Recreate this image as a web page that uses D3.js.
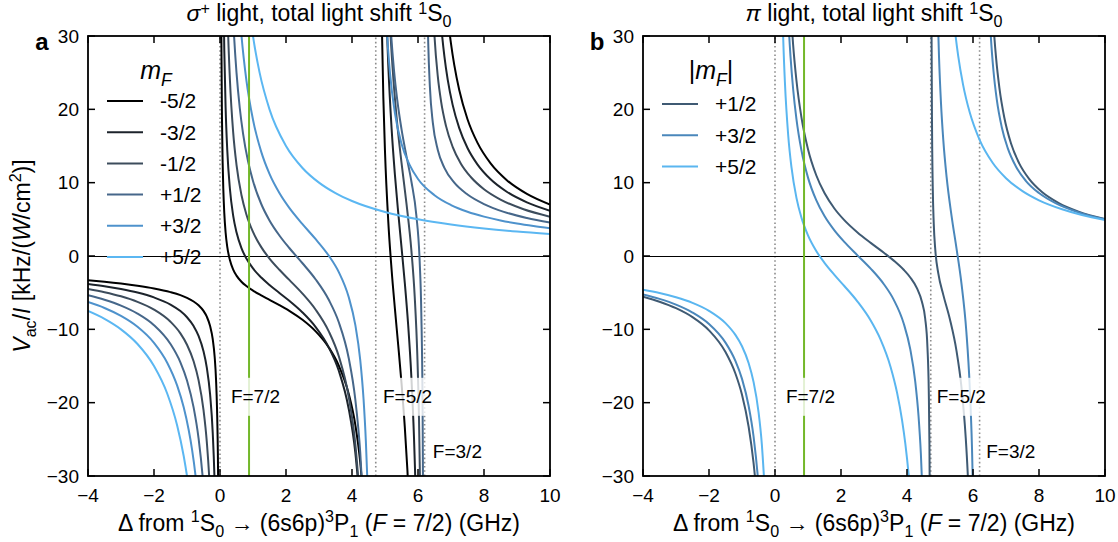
<!DOCTYPE html>
<html><head><meta charset="utf-8">
<script src="https://cdn.jsdelivr.net/npm/d3@7"></script>
<style>
body{margin:0;background:#fff;}
svg{font-family:"Liberation Sans", Arial, Helvetica, sans-serif;}
</style></head><body>
<svg id="chart" width="1118" height="542"></svg>
<script>
// ---------------- data ----------------
const xTicks = [-4, -2, 0, 2, 4, 6, 8, 10];
const yTicks = [-30, -20, -10, 0, 10, 20, 30];
const resonances = [0, 4.72, 6.2];
const resonanceLabels = ["F=7/2", "F=5/2", "F=3/2"];
const sigmaLabelPos = [[0.33, -19.2], [4.94, -19.2], [6.45, -26.7]];
const piLabelPos = [[0.33, -19.2], [4.9, -19.2], [6.4, -26.7]];
const greenLineX = 0.88;

const sigmaLabels = ["-5/2", "-3/2", "-1/2", "+1/2", "+3/2", "+5/2"];
const piLabels = ["+1/2", "+3/2", "+5/2"];

// sigma+ light, mF = -5/2
const sigmaM52 = [
 [[-4,-3.30],[-3.5,-3.51],[-3,-3.76],[-2.5,-4.06],[-2,-4.43],[-1.5,-4.93],[-1.2,-5.34],[-1,-5.71],[-0.8,-6.20],[-0.65,-6.72],[-0.5,-7.49],[-0.4,-8.28],[-0.3,-9.55],[-0.22,-11.35],[-0.16,-13.84],[-0.12,-16.86],[-0.09,-20.85],[-0.06,-28.82],[-0.04,-40.76]],
 [[0.03,42.6],[0.04,30.67],[0.06,18.73],[0.08,12.77],[0.1,9.17],[0.13,5.84],[0.17,3.21],[0.22,1.25],[0.3,-0.56],[0.4,-1.86],[0.5,-2.68],[0.65,-3.51],[0.8,-4.10],[1,-4.72],[1.25,-5.37],[1.5,-5.97],[1.8,-6.69],[2.1,-7.47],[2.5,-8.70],[2.9,-10.28],[3.3,-12.50],[3.6,-14.95],[3.9,-18.78],[4.1,-23.00],[4.25,-28.15],[4.35,-33.64]],
 [[4.86,46.6],[4.9,32.5],[4.95,21.55],[5.0,14.22],[5.1,4.65],[5.2,-1.87],[5.3,-7.18],[5.4,-12.14],[5.5,-17.32],[5.6,-23.33],[5.68,-29.28],[5.75,-35.87]],
 [[6.85,35.0],[6.93,31.49],[7.0,28.96],[7.1,26.02],[7.25,22.64],[7.5,18.65],[7.8,15.46],[8.2,12.63],[8.7,10.31],[9.3,8.47],[10,7.02]]
];
// mF = -3/2
const sigmaM32 = [
 [[-4,-3.82],[-3.5,-4.13],[-3,-4.51],[-2.5,-4.99],[-2,-5.65],[-1.5,-6.62],[-1.2,-7.51],[-1,-8.35],[-0.8,-9.56],[-0.65,-10.90],[-0.5,-13.00],[-0.4,-15.22],[-0.3,-18.88],[-0.22,-24.14],[-0.16,-31.5],[-0.12,-40.5]],
 [[0.1,37.97],[0.13,28.04],[0.17,20.23],[0.22,14.45],[0.3,9.17],[0.4,5.48],[0.5,3.23],[0.65,1.07],[0.8,-0.35],[1,-1.70],[1.25,-2.94],[1.5,-3.95],[1.8,-5.04],[2.1,-6.11],[2.5,-7.70],[2.9,-9.69],[3.3,-12.49],[3.6,-15.65],[3.9,-20.83],[4.1,-26.77],[4.25,-34.30]],
 [[5.0,39.78],[5.05,31.92],[5.1,25.99],[5.2,17.37],[5.3,11.10],[5.4,5.94],[5.5,1.20],[5.6,-3.67],[5.7,-9.28],[5.8,-16.57],[5.88,-24.96],[5.91,-29.14],[5.94,-34.2]],
 [[6.65,34.42],[6.72,30.57],[6.8,27.22],[6.9,24.04],[7.05,20.61],[7.25,17.44],[7.5,14.73],[7.8,12.5],[8.2,10.46],[8.7,8.73],[9.3,7.32],[10,6.18]]
];
// mF = -1/2
const sigmaM12 = [
 [[-4,-4.50],[-3.5,-4.94],[-3,-5.50],[-2.5,-6.25],[-2,-7.31],[-1.5,-8.97],[-1.2,-10.55],[-1,-12.10],[-0.8,-14.36],[-0.65,-16.93],[-0.5,-20.99],[-0.4,-25.34],[-0.3,-32.56],[-0.22,-43.0]],
 [[0.2,38.44],[0.25,29.83],[0.3,24.07],[0.4,16.83],[0.5,12.44],[0.65,8.32],[0.8,5.67],[1,3.28],[1.25,1.21],[1.5,-0.35],[1.8,-1.88],[2.1,-3.26],[2.5,-5.13],[2.9,-7.33],[3.3,-10.31],[3.6,-13.68],[3.9,-19.19],[4.1,-25.61],[4.25,-33.83]],
 [[5.1,36.76],[5.17,30.05],[5.25,24.37],[5.35,18.98],[5.5,12.73],[5.65,7.17],[5.8,0.74],[5.9,-5.51],[5.98,-13.61],[6.03,-22.12],[6.07,-33.33]],
 [[6.42,37.67],[6.5,29.97],[6.6,24.49],[6.7,21.06],[6.85,17.71],[7.05,14.89],[7.3,12.59],[7.6,10.77],[8,9.1],[8.5,7.69],[9.2,6.37],[10,5.36]]
];
// mF = +1/2
const sigmaP12 = [
 [[-4,-5.34],[-3.5,-5.96],[-3,-6.76],[-2.5,-7.85],[-2,-9.43],[-1.5,-12.00],[-1.2,-14.50],[-1,-16.97],[-0.8,-20.64],[-0.65,-24.84],[-0.5,-31.52],[-0.4,-38.73]],
 [[0.35,37.38],[0.42,30.52],[0.5,25.00],[0.6,20.15],[0.7,16.66],[0.85,12.91],[1,10.23],[1.25,7.09],[1.5,4.85],[1.8,2.80],[2.1,1.09],[2.5,-0.99],[2.9,-3.20],[3.3,-6.01],[3.6,-9.03],[3.9,-13.91],[4.1,-19.56],[4.25,-26.81],[4.35,-34.82]],
 [[5.12,35.19],[5.19,29.93],[5.27,25.47],[5.37,21.32],[5.5,17.30],[5.65,13.62],[5.8,10.16],[5.95,5.54],[6.05,-0.67],[6.1,-7.73],[6.14,-21.36],[6.16,-38.17]],
 [[6.25,51.2],[6.28,36.06],[6.31,29.07],[6.36,23.1],[6.45,18.14],[6.6,14.46],[6.8,12.02],[7.1,9.99],[7.5,8.38],[8,7.08],[8.6,6.02],[9.3,5.18],[10,4.55]]
];
// mF = +3/2
const sigmaP32 = [
 [[-4,-6.28],[-3.5,-7.09],[-3,-8.17],[-2.5,-9.65],[-2,-11.84],[-1.6,-14.55],[-1.3,-17.65],[-1.1,-20.64],[-0.95,-23.7],[-0.85,-26.3],[-0.74,-30.0],[-0.65,-34.0]],
 [[0.55,36.0],[0.65,30.1],[0.8,23.95],[1,18.58],[1.25,14.2],[1.5,11.2],[1.8,8.59],[2.1,6.56],[2.5,4.35],[2.9,2.29],[3.3,0.02],[3.6,-2.2],[3.9,-5.6],[4.1,-9.4],[4.25,-14.2],[4.35,-19.5],[4.42,-25.25],[4.46,-29.9],[4.5,-36.2]],
 [[5.0,36.3],[5.07,29.8],[5.15,25.0],[5.3,19.5],[5.5,15.3],[5.75,12.4],[6,10.5],[6.5,8.29],[7,6.95],[7.5,6.04],[8,5.37],[8.5,4.85],[9,4.43],[9.5,4.09],[10,3.8]]
];
// mF = +5/2
const sigmaP52 = [
 [[-4,-7.5],[-3.5,-8.57],[-3,-10],[-2.5,-12],[-2,-15],[-1.6,-18.75],[-1.3,-23.08],[-1.1,-27.27],[-1.0,-30],[-0.9,-33.33]],
 [[0.85,35.29],[1,30],[1.2,25],[1.5,20],[2,15],[2.5,12],[3,10],[3.5,8.57],[4,7.5],[5,6],[6,5],[7,4.29],[8,3.75],[9,3.33],[10,3.0]]
];

// pi light, |mF| = 1/2
const piP12 = [
 [[-4,-5.55],[-3.5,-6.23],[-3,-7.12],[-2.5,-8.34],[-2,-10.14],[-1.5,-13.10],[-1.2,-16.02],[-1,-18.92],[-0.8,-23.25],[-0.65,-28.21],[-0.6,-30.43],[-0.5,-36.16]],
 [[0.45,35.71],[0.55,28.76],[0.65,23.93],[0.8,18.94],[1,14.56],[1.25,11.01],[1.5,8.58],[1.8,6.48],[2.1,4.89],[2.5,3.21],[2.9,1.79],[3.3,0.44],[3.6,-0.63],[3.9,-1.88],[4.1,-2.93],[4.3,-4.39],[4.45,-6.20],[4.55,-8.49],[4.62,-12.49],[4.66,-18.46],[4.68,-25.74],[4.69,-32.94]],
 [[4.735,52.7],[4.745,29.76],[4.76,16.76],[4.78,9.46],[4.81,4.48],[4.86,0.70],[4.95,-2.41],[5.1,-5.30],[5.3,-8.62],[5.5,-12.93],[5.65,-17.87],[5.78,-24.80],[5.84,-29.63],[5.88,-33.85]],
 [[6.55,37.37],[6.62,31.6],[6.7,26.98],[6.8,22.93],[6.95,18.85],[7.15,15.37],[7.4,12.63],[7.7,10.51],[8.1,8.68],[8.6,7.21],[9.2,6.05],[10,5.03]]
];
// |mF| = 3/2
const piP32 = [
 [[-4,-5.24],[-3.5,-5.85],[-3,-6.63],[-2.5,-7.71],[-2,-9.27],[-1.5,-11.81],[-1.2,-14.30],[-1,-16.76],[-0.8,-20.42],[-0.65,-24.60],[-0.5,-31.27],[-0.4,-38.47]],
 [[0.35,37.73],[0.4,32.59],[0.47,27.22],[0.55,22.74],[0.65,18.67],[0.8,14.43],[1,10.69],[1.25,7.61],[1.5,5.44],[1.8,3.49],[2.1,1.92],[2.5,0.09],[2.9,-1.72],[3.3,-3.85],[3.6,-5.98],[3.9,-9.20],[4.1,-12.74],[4.25,-17.12],[4.35,-21.85],[4.42,-26.93],[4.48,-33.54]],
 [[4.9,39.54],[4.93,33.27],[4.97,27.17],[5.03,20.85],[5.1,15.80],[5.2,10.79],[5.35,5.48],[5.5,1.04],[5.65,-3.74],[5.8,-10.40],[5.9,-17.73],[5.97,-26.23],[6.02,-36.15]],
 [[6.47,36.24],[6.54,29.95],[6.62,25.26],[6.72,21.36],[6.87,17.6],[7.05,14.74],[7.3,12.21],[7.6,10.26],[8,8.58],[8.5,7.2],[9.2,5.94],[10,5.0]]
];
// |mF| = 5/2
const piP52 = [
 [[-4,-4.60],[-3.5,-5.05],[-3,-5.63],[-2.5,-6.39],[-2,-7.47],[-1.5,-9.15],[-1.2,-10.76],[-1,-12.31],[-0.8,-14.59],[-0.65,-17.17],[-0.5,-21.24],[-0.4,-25.61],[-0.3,-32.83]],
 [[0.2,38.12],[0.25,29.49],[0.3,23.73],[0.4,16.47],[0.5,12.07],[0.65,7.92],[0.8,5.25],[1,2.82],[1.25,0.69],[1.5,-0.93],[1.8,-2.57],[2.1,-4.09],[2.5,-6.21],[2.9,-8.80],[3.2,-11.40],[3.5,-15.09],[3.7,-18.66],[3.85,-22.37],[3.95,-25.62],[4.05,-29.82],[4.15,-35.48]],
 [[5.35,35.57],[5.45,30.89],[5.55,27.32],[5.7,23.34],[5.9,19.59],[6.2,15.84],[6.6,12.68],[7,10.61],[7.5,8.84],[8,7.59],[8.7,6.37],[9.3,5.59],[10,4.91]]
];

const sigmaSeries = [sigmaM52, sigmaM32, sigmaM12, sigmaP12, sigmaP32, sigmaP52];
const piSeries = [piP12, piP32, piP52];

// ---------------- styles ----------------
const sigmaColors = ["#000000", "#1c232b", "#3c4c5c", "#46678a", "#4e92cc", "#5bb7f2"];
const piColors = ["#3f5a73", "#4a87bb", "#5ab6f0"];
const FS = {tick: 19, axis: 23, title: 23, legend: 21, legTitle: 25, flabel: 19, letter: 24};

const svg = d3.select("#chart");

function rich(sel, parts, fs, supShift) {
  const sup = supShift === undefined ? 0.4 : supShift;
  let cur = 0;
  parts.forEach(([t, s]) => {
    const isSub = s.indexOf("sub") >= 0, isSup = s.indexOf("sup") >= 0;
    const target = isSub ? fs * 0.28 : isSup ? -fs * sup : 0;
    const ts = sel.append("tspan").text(t).attr("dy", target - cur);
    cur = target;
    if (isSub || isSup) ts.attr("font-size", fs * 0.7);
    if (s.indexOf("i") === 0) ts.attr("font-style", "italic");
  });
}

function panel(cfg) {
  const x = d3.scaleLinear().domain([-4, 10]).range([cfg.left, cfg.right]);
  const y = d3.scaleLinear().domain([-30, 30]).range([476, 36]);
  const g = svg.append("g");
  const clipId = "clip" + cfg.id;
  svg.append("clipPath").attr("id", clipId).append("rect")
    .attr("x", cfg.left).attr("y", 36).attr("width", cfg.right - cfg.left).attr("height", 440);
  const inner = g.append("g").attr("clip-path", `url(#${clipId})`);

  // resonance dotted lines
  inner.selectAll("line.res").data(resonances).join("line")
    .attr("x1", d => x(d)).attr("x2", d => x(d)).attr("y1", y(-30)).attr("y2", y(30))
    .attr("stroke", "#8c8c8c").attr("stroke-width", 1.6).attr("stroke-dasharray", "1.6,2.6");
  // zero line
  inner.append("line").attr("x1", x(-4)).attr("x2", x(10)).attr("y1", y(0) + 0.5).attr("y2", y(0) + 0.5)
    .attr("stroke", "#000").attr("stroke-width", 1);

  const line = d3.line().x(d => x(d[0])).y(d => y(d[1])).curve(d3.curveMonotoneX);
  cfg.series.forEach((branches, i) => {
    branches.forEach(b => {
      inner.append("path").attr("d", line(b)).attr("fill", "none")
        .attr("stroke", cfg.colors[i]).attr("stroke-width", 2);
    });
  });
  // green line
  inner.append("line").attr("x1", x(greenLineX)).attr("x2", x(greenLineX)).attr("y1", y(-30)).attr("y2", y(30))
    .attr("stroke", "#73b82a").attr("stroke-width", 2);

  // resonance labels with translucent boxes
  resonanceLabels.forEach((lab, i) => {
    const [lx, ly] = cfg.labelPos[i];
    const t = g.append("text").attr("x", x(lx)).attr("y", y(ly)).attr("dy", "0.35em")
      .attr("font-size", FS.flabel).text(lab);
    const bb = t.node().getBBox();
    g.insert("rect", "text").attr("x", bb.x - 2).attr("y", y(ly) - 19).attr("width", bb.width + 4)
      .attr("height", 38).attr("fill", "#fff").attr("opacity", 0.8);
  });

  // frame
  g.append("rect").attr("x", cfg.left).attr("y", 36).attr("width", cfg.right - cfg.left).attr("height", 440)
    .attr("fill", "none").attr("stroke", "#000").attr("stroke-width", 1.8);
  // ticks (inward, all sides)
  const tl = 7;
  xTicks.forEach(v => {
    g.append("line").attr("x1", x(v)).attr("x2", x(v)).attr("y1", 476).attr("y2", 476 - tl).attr("stroke", "#000").attr("stroke-width", 1.5);
    g.append("line").attr("x1", x(v)).attr("x2", x(v)).attr("y1", 36).attr("y2", 36 + tl).attr("stroke", "#000").attr("stroke-width", 1.5);
  });
  yTicks.forEach(v => {
    g.append("line").attr("x1", cfg.left).attr("x2", cfg.left + tl).attr("y1", y(v)).attr("y2", y(v)).attr("stroke", "#000").attr("stroke-width", 1.5);
    g.append("line").attr("x1", cfg.right).attr("x2", cfg.right - tl).attr("y1", y(v)).attr("y2", y(v)).attr("stroke", "#000").attr("stroke-width", 1.5);
  });
  const fmt = d3.format("d");
  g.selectAll("text.xt").data(xTicks).join("text").attr("class", "xt")
    .attr("x", d => x(d)).attr("y", 502).attr("text-anchor", "middle").attr("font-size", FS.tick).text(d => fmt(d));
  g.selectAll("text.yt").data(yTicks).join("text").attr("class", "yt")
    .attr("x", cfg.left - 9).attr("y", d => y(d)).attr("dy", "0.35em").attr("text-anchor", "end")
    .attr("font-size", FS.tick).text(d => fmt(d));

  // x axis label
  const xl = g.append("text").attr("x", (cfg.left + cfg.right) / 2).attr("y", 531)
    .attr("text-anchor", "middle").attr("font-size", FS.axis);
  rich(xl, [["Δ from ", "n"], ["1", "sup"], ["S", "n"], ["0", "sub"], [" → (6s6p)", "n"], ["3", "sup"], ["P", "n"], ["1", "sub"], [" (", "n"], ["F", "i"], [" = 7/2) (GHz)", "n"]], FS.axis);

  // title
  const tt = g.append("text").attr("x", (cfg.left + cfg.right) / 2).attr("y", 21)
    .attr("text-anchor", "middle").attr("font-size", FS.title);
  rich(tt, cfg.title, FS.title, 0.3);

  // panel letter
  g.append("text").attr("x", cfg.left - 46).attr("y", 50).attr("text-anchor", "middle")
    .attr("font-size", FS.letter).attr("font-weight", "bold").text(cfg.letter);

  // legend
  const lt = g.append("text").attr("x", cfg.left + cfg.legTitleDx).attr("y", 79)
    .attr("text-anchor", "middle").attr("font-size", FS.legTitle);
  rich(lt, cfg.legTitle, FS.legTitle);
  cfg.labels.forEach((lab, i) => {
    const ly = cfg.legY0 + i * 31.2;
    g.append("line").attr("x1", cfg.left + 19).attr("x2", cfg.left + 55).attr("y1", ly).attr("y2", ly)
      .attr("stroke", cfg.colors[i]).attr("stroke-width", 2);
    g.append("text").attr("x", cfg.left + 72).attr("y", ly).attr("dy", "0.35em")
      .attr("font-size", FS.legend).text(lab);
  });
}

panel({id: "a", left: 88, right: 550, series: sigmaSeries, colors: sigmaColors, labels: sigmaLabels,
  labelPos: sigmaLabelPos, letter: "a", legTitleDx: 68, legY0: 101,
  legTitle: [["m", "i"], ["F", "isub"]],
  title: [["σ", "i"], ["+", "sup"], [" light, total light shift ", "n"], ["1", "sup"], ["S", "n"], ["0", "sub"]]});
panel({id: "b", left: 643, right: 1105, series: piSeries, colors: piColors, labels: piLabels,
  labelPos: piLabelPos, letter: "b", legTitleDx: 68, legY0: 104,
  legTitle: [["|", "n"], ["m", "i"], ["F", "isub"], ["|", "n"]],
  title: [["π", "i"], [" light, total light shift ", "n"], ["1", "sup"], ["S", "n"], ["0", "sub"]]});

// shared y-axis label (left)
const yl = svg.append("text").attr("transform", "translate(30,256) rotate(-90)")
  .attr("text-anchor", "middle").attr("font-size", FS.axis);
rich(yl, [["V", "i"], ["ac", "sub"], ["/", "n"], ["I", "i"], [" [kHz/(", "n"], ["W", "i"], ["/cm", "n"], ["2", "sup"], [")]", "n"]], FS.axis);
</script>
</body></html>
